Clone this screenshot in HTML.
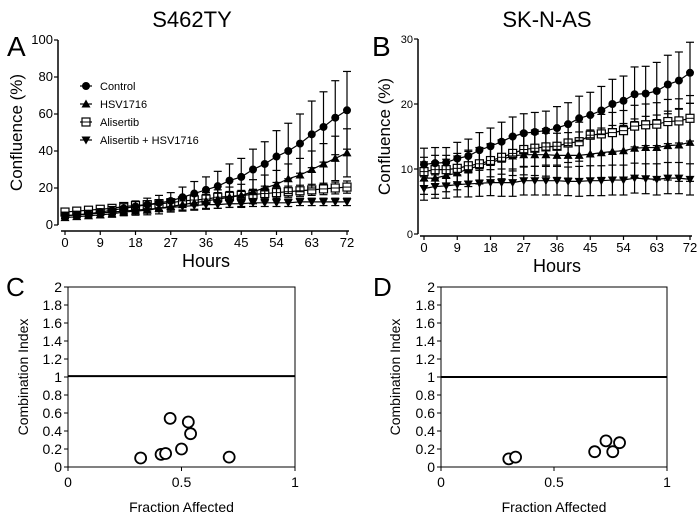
<!DOCTYPE html>
<html><head><meta charset="utf-8"><style>
body{margin:0;background:#fff;}
svg{display:block;font-family:"Liberation Sans",Arial,sans-serif;}
</style></head><body>
<svg id="fig" width="700" height="520" viewBox="0 0 700 520" xmlns="http://www.w3.org/2000/svg"></svg>
<script>
const hours=[0,3,6,9,12,15,18,21,24,27,30,33,36,39,42,45,48,51,54,57,60,63,66,69,72];
const xTicks=[0,9,18,27,36,45,54,63,72];
const aControl=[5,5.5,6,7,8,9,10,11,12,13,15,17,19,21,24,26,30,33,37,40,44,49,53,58,62];
const aControlErr=[1.5,1.5,1.6,1.8,2,2.5,3,3.5,4,4.5,5.5,6.5,7,8,9,10,11,12,14,15,16,18,19,20,21];
const aHSV=[4,4.5,5,5.5,6,7,7.5,8,9,10,11,12,13,14,15,16,18,20,22,25,27,30,33,36,39];
const aHSVErr=[1.5,1.5,1.5,1.6,1.8,2,2.2,2.5,3,3,3.5,4,4.5,5,5.5,6,6.5,7,7.5,8,9,10,11,12,13];
const aAlis=[7,7.5,8,8.5,9,10,10.5,11,11.5,12,13,13.5,14,15,15.5,16,16.5,17,17.5,18,18.5,19,19.5,20,20.5];
const aAlisErr=[1.5,1.5,1.5,1.5,1.8,2,2,2,2.2,2.2,2.3,2.4,2.5,2.5,2.6,2.7,2.8,2.8,2.9,3,3,3,3.1,3.2,3.3];
const aCombo=[5,5.5,6,6.5,7,7.5,8,8.5,9,9.5,10,10.5,11,11,11.5,11.5,12,12,12,12,12.5,12.5,12.5,12.5,12.5];
const aComboErr=[1.2,1.2,1.3,1.4,1.5,1.5,1.6,1.7,1.8,1.8,1.9,2,2,2,2,2,2,2,2,2,2,2,2,2,2];
const bControl=[10.7,10.9,11,11.6,12,12.9,13.5,14.2,15,15.5,15.7,15.9,16.3,16.9,17.8,18.3,19,20,20.5,21.5,21.6,22,23,23.6,24.8];
const bControlErr=[2.5,2.4,2.3,2.5,2.6,2.7,2.8,3,3,3,3,3,3.3,3.3,3.4,3.5,3.7,3.8,3.8,4.2,4.2,4.4,4.5,4.4,4.7];
const bHSV=[8.6,8.6,9,9.4,10,10.5,11,11.5,12,12.2,12.2,12.2,12.1,12.1,12.1,12.3,12.5,12.7,12.8,13.2,13.3,13.3,13.6,13.7,14.1];
const bHSVErr=[2.5,2.5,2.5,2.6,2.7,2.8,2.9,3,3,3.1,3.2,3.3,3.4,3.5,3.6,3.7,3.8,4,4.2,4.5,4.8,5,5.3,5.6,6];
const bAlis=[9.6,9.9,9.9,10.1,10.5,10.8,11.3,11.8,12.4,13,13.2,13.4,13.5,14,14.2,15.2,15.4,15.6,15.9,16.6,16.8,16.9,17.3,17.4,17.8];
const bAlisErr=[2.2,2.2,2.2,2.3,2.4,2.5,2.5,2.6,2.7,2.7,2.8,2.8,2.9,3,3,3,3,3.1,3.1,3.2,3.2,3.3,3.4,3.4,3.5];
const bCombo=[7,7.3,7.4,7.6,7.7,7.8,7.9,7.9,7.9,8.2,8.2,8.2,8.2,8.1,8.1,8.2,8.2,8.3,8.3,8.6,8.5,8.4,8.6,8.6,8.4];
const bComboErr=[1.8,1.8,1.9,1.9,2,2,2,2.1,2.1,2.2,2.2,2.2,2.2,2.2,2.3,2.3,2.3,2.3,2.3,2.3,2.3,2.4,2.4,2.4,2.4];
const cFA=[0.32,0.41,0.43,0.45,0.50,0.53,0.54,0.71];
const cCI=[0.10,0.14,0.15,0.54,0.20,0.50,0.37,0.11];
const dFA=[0.30,0.33,0.68,0.73,0.76,0.79];
const dCI=[0.09,0.11,0.17,0.29,0.17,0.27];
const ciTicks=[0,0.2,0.4,0.6,0.8,1,1.2,1.4,1.6,1.8,2];
const faTicks=[0,0.5,1];

const svg=document.getElementById('fig');
const NS='http://www.w3.org/2000/svg';
function el(tag,attrs,parent){const e=document.createElementNS(NS,tag);for(const k in attrs)e.setAttribute(k,attrs[k]);(parent||svg).appendChild(e);return e;}
function txt(s,x,y,size,anchor,parent,extra){const t=el('text',Object.assign({x:x,y:y,'font-size':size,'text-anchor':anchor||'middle',fill:'#000'},extra||{}),parent);t.textContent=s;return t;}

function marker(g,type,x,y){
  if(type==='circle')return el('circle',{cx:x,cy:y,r:4,fill:'#000'},g);
  if(type==='up')return el('polygon',{points:`${x},${y-4.5} ${x-4.5},${y+3.5} ${x+4.5},${y+3.5}`,fill:'#000'},g);
  if(type==='down')return el('polygon',{points:`${x},${y+4.5} ${x-4.5},${y-3.5} ${x+4.5},${y-3.5}`,fill:'#000'},g);
  if(type==='square'){const gg=el('g',{},g);el('rect',{x:x-4,y:y-4,width:8,height:8,fill:'#fff',stroke:'#000','stroke-width':1.2},gg);el('line',{x1:x-4,y1:y,x2:x+4,y2:y,stroke:'#000','stroke-width':1},gg);return gg;}
}

function timePanel(cfg){
  const g=el('g',{});
  
  
  const X=v=>cfg.x0+(v-0)/72*(cfg.x1-cfg.x0);
  const Y=v=>cfg.y0+(v/cfg.ymax)*(cfg.y1-cfg.y0);
  const ya=el('line',{x1:cfg.ax,y1:cfg.y1,x2:cfg.ax,y2:cfg.y0,stroke:'#000','stroke-width':1.5},g);
  
  const xa=el('line',{x1:cfg.x0-4,y1:cfg.axY,x2:cfg.x1+2,y2:cfg.axY,stroke:'#000','stroke-width':1.5},g);
  
  cfg.yTicks.forEach(v=>{el('line',{x1:cfg.ax-4,y1:Y(v),x2:cfg.ax,y2:Y(v),stroke:'#000','stroke-width':1.2},g);
    const t=txt(String(v),cfg.ax-5,Y(v)+4,cfg.ytsize,'end',g);});
  xTicks.forEach(v=>{el('line',{x1:X(v),y1:cfg.axY,x2:X(v),y2:cfg.axY+4,stroke:'#000','stroke-width':1.2},g);
    const t=txt(String(v),X(v),cfg.axY+16,13,'middle',g);});
  cfg.series.forEach(s=>{
    const sg=el('g',{},g);
    
    
    hours.forEach((h,i)=>{const x=X(h),m=s.v[i],e=s.e[i];
      el('line',{x1:x,y1:Y(m-e),x2:x,y2:Y(m+e),stroke:'#000','stroke-width':1.2},sg);
      el('line',{x1:x-4,y1:Y(m+e),x2:x+4,y2:Y(m+e),stroke:'#000','stroke-width':1.2},sg);
      el('line',{x1:x-4,y1:Y(m-e),x2:x+4,y2:Y(m-e),stroke:'#000','stroke-width':1.2},sg);});
    el('polyline',{points:hours.map((h,i)=>X(h)+','+Y(s.v[i])).join(' '),fill:'none',stroke:'#000','stroke-width':1.2},sg);
    hours.forEach((h,i)=>{const m=marker(sg,s.m,X(h),Y(s.v[i]));});
  });
  const tt=txt(cfg.title,cfg.tx,27,22,'middle',g);
  const ll=txt(cfg.letter,cfg.lx,56,28,'start',g);
  const yl=txt('Confluence (%)',0,0,17,'middle',g,{transform:`translate(${cfg.ylx},${(cfg.y0+cfg.y1)/2}) rotate(-90)`});
  const xl=txt('Hours',(cfg.x0+cfg.x1)/2,cfg.axY+36,18,'middle',g);
  return g;
}

timePanel({name:'panel-a',x0:65,x1:347,ax:58,axY:231,y0:225,y1:40,ymax:100,yTicks:[0,20,40,60,80,100],ytsize:13,title:'S462TY',tx:192,letter:'A',lx:7,ylx:22,
  series:[{key:'combo',v:aCombo,e:aComboErr,m:'down'},{key:'alisertib',v:aAlis,e:aAlisErr,m:'square'},{key:'hsv1716',v:aHSV,e:aHSVErr,m:'up'},{key:'control',v:aControl,e:aControlErr,m:'circle'}]});
timePanel({name:'panel-b',x0:424,x1:690,ax:418,axY:236,y0:234,y1:39,ymax:30,yTicks:[0,10,20,30],ytsize:11,title:'SK-N-AS',tx:547,letter:'B',lx:372,ylx:390,
  series:[{key:'combo',v:bCombo,e:bComboErr,m:'down'},{key:'hsv1716',v:bHSV,e:bHSVErr,m:'up'},{key:'alisertib',v:bAlis,e:bAlisErr,m:'square'},{key:'control',v:bControl,e:bControlErr,m:'circle'}]});

const lg=el('g',{});


[['circle','Control'],['up','HSV1716'],['square','Alisertib'],['down','Alisertib  + HSV1716']].forEach((d,i)=>{
  const y=86+i*18;
  const eg=el('g',{},lg);
  
  
  el('line',{x1:80,y1:y,x2:92,y2:y,stroke:'#000','stroke-width':1.2},eg);
  marker(eg,d[0],86,y);
  txt(d[1],100,y+4,11,'start',eg);
});

function ciPanel(cfg){
  const g=el('g',{});
  
  
  const X=v=>cfg.x0+v*(cfg.x1-cfg.x0);
  const Y=v=>cfg.y0+v/2*(cfg.y1-cfg.y0);
  el('rect',{x:cfg.x0,y:cfg.y1,width:cfg.x1-cfg.x0,height:cfg.y0-cfg.y1,fill:'none',stroke:'#000','stroke-width':1},g);
  ciTicks.forEach(v=>{el('line',{x1:cfg.x0-4,y1:Y(v),x2:cfg.x0,y2:Y(v),stroke:'#000'},g);
    const t=txt(String(v),cfg.x0-6,Y(v)+5,14,'end',g);});
  faTicks.forEach(v=>{el('line',{x1:X(v),y1:cfg.y0,x2:X(v),y2:cfg.y0+4,stroke:'#000'},g);
    const t=txt(String(v),X(v),cfg.y0+20,14,'middle',g);});
  const rl=el('line',{x1:cfg.x0,y1:Y(cfg.ref),x2:cfg.x1,y2:Y(cfg.ref),stroke:'#000','stroke-width':2},g);
  
  cfg.fa.forEach((f,i)=>{const c=el('circle',{cx:X(f),cy:Y(cfg.ci[i]),r:5.5,fill:'#fff',stroke:'#000','stroke-width':1.8},g);
    });
  const ll=txt(cfg.letter,cfg.lx,296,26,'start',g);
  const yl=txt('Combination  Index',0,0,14,'middle',g,{transform:`translate(${cfg.ylx},${(cfg.y0+cfg.y1)/2}) rotate(-90)`});
  const xl=txt('Fraction Affected',(cfg.x0+cfg.x1)/2,cfg.y0+45,14,'middle',g);
}
ciPanel({name:'panel-c',x0:68,x1:295,y0:467,y1:287,fa:cFA,ci:cCI,ref:1.01,letter:'C',lx:6,ylx:28});
ciPanel({name:'panel-d',x0:441,x1:667,y0:467,y1:287,fa:dFA,ci:dCI,ref:1.0,letter:'D',lx:373,ylx:400});
</script>
</body></html>
